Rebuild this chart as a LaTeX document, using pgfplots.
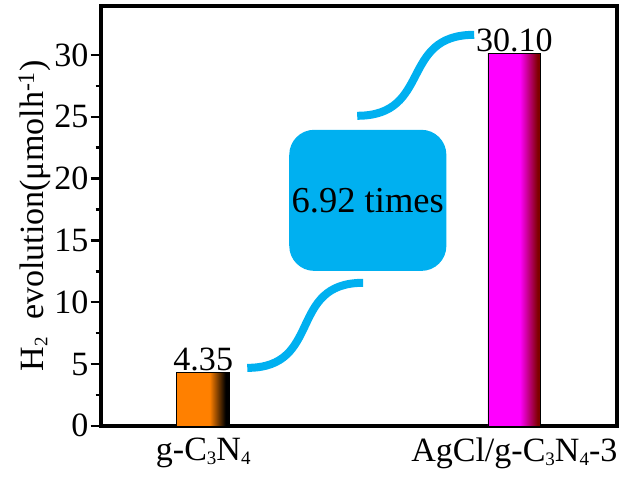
\documentclass[border=0pt]{standalone}
\usepackage{pgfplots}
\pgfplotsset{compat=1.18}
\usepackage{fontspec}
\setmainfont{Liberation Serif}

\definecolor{barorange}{HTML}{FF8000}
\definecolor{barmag}{HTML}{FF00FF}
\definecolor{bardark}{HTML}{800000}
\definecolor{boxcyan}{HTML}{00B0F0}

% the path box maps to 25bp..75bp of the shading
\pgfdeclarehorizontalshading{orangeshade}{100bp}{color(0bp)=(barorange); color(56bp)=(barorange); color(71bp)=(black); color(100bp)=(black)}
\pgfdeclarehorizontalshading{magshade}{100bp}{color(0bp)=(barmag); color(55bp)=(barmag); color(72bp)=(bardark); color(100bp)=(bardark)}

\newcommand{\bigfont}{\fontsize{34bp}{40bp}\selectfont}
\newcommand{\sub}[1]{\raisebox{-0.12em}{\fontsize{19bp}{20bp}\selectfont #1}}

\begin{document}
\begin{tikzpicture}
\begin{axis}[
  scale only axis,
  width=516bp, height=420bp,
  xmin=-0.33, xmax=1.33,
  ymin=0, ymax=34,
  xtick={0,1},
  xticklabels={g-C\sub{3}N\sub{4}, AgCl/g-C\sub{3}N\sub{4}-3},
  x tick style={draw=none},
  ytick={0,5,...,30},
  minor y tick num=1,
  ytick pos=left,
  tick align=outside,
  major tick length=10bp, minor tick length=5bp,
  y tick style={line width=2.5bp, black},
  axis line style={line width=4bp},
  /pgf/number format/assume math mode=true,
  tick label style={font=\bigfont, inner sep=2bp},
  ylabel={H\sub{2}\ \ evolution(μmolh\textsuperscript{-1})},
  ylabel style={font=\bigfont, at={(axis description cs:-0.128,0.5)}, anchor=center},
  nodes near coords,
  point meta=explicit symbolic,
  nodes near coords style={font=\bigfont, anchor=south, inner sep=1bp},
  clip=false,
]
\addplot[ybar, bar width=0.17, bar shift=0pt, draw=black, line width=0.6bp, shade, shading=orangeshade]
  coordinates {(0,4.35)[4.35]};
\addplot[ybar, bar width=0.17, bar shift=0pt, draw=black, line width=0.6bp, shade, shading=magshade]
  coordinates {(1,30.10)[30.10]};

\coordinate (bl) at (rel axis cs:0,0);
\coordinate (tr) at (rel axis cs:1,1);

\draw[boxcyan, line width=8bp] (axis cs:0.1415,4.69) to[out=0,in=180,looseness=1.35] (axis cs:0.514,11.57);
\draw[boxcyan, line width=8bp] (axis cs:0.495,25.08) to[out=0,in=180,looseness=1.35] (axis cs:0.871,31.63);
\node[fill=boxcyan, rounded corners=25bp, minimum width=157bp, minimum height=141bp,
      font=\fontsize{36.5bp}{40bp}\selectfont, inner sep=0pt] at (axis cs:0.529,18.24) {6.92 times};
\end{axis}
\pgfresetboundingbox
\useasboundingbox ([shift={(-100.5bp,-54bp)}]bl) rectangle ([shift={(3bp,5.5bp)}]tr);
\end{tikzpicture}
\end{document}
